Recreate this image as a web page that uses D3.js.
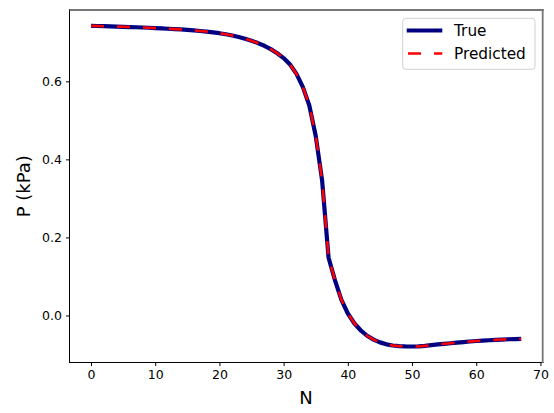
<!DOCTYPE html>
<html><head><meta charset="utf-8">
<script src="https://cdn.jsdelivr.net/npm/d3@7"></script>
<style>body{margin:0;background:#fff}svg{display:block;font-family:"DejaVu Sans",sans-serif}</style>
</head><body><svg id="c" width="554" height="413"></svg>
<script>
const nValues = d3.range(0, 68);
const pTrue = [0.742,0.7417,0.7413,0.7408,0.7403,0.7397,0.7391,0.7385,0.7379,0.7372,
0.7364,0.7356,0.7347,0.7337,0.733,0.7318,0.7305,0.729,0.7275,0.7255,
0.7233,0.7207,0.7175,0.7135,0.709,0.704,0.698,0.691,0.6825,0.672,
0.6595,0.643,0.619,0.585,0.538,0.46,0.345,0.148,0.09,0.04,
0.005,-0.02,-0.038,-0.052,-0.062,-0.069,-0.074,-0.077,-0.0785,-0.0792,
-0.0795,-0.0793,-0.078,-0.076,-0.0742,-0.0726,-0.0712,-0.0698,-0.0682,-0.0667,
-0.0655,-0.0645,-0.0635,-0.0625,-0.0617,-0.061,-0.0605,-0.06];
const pPred = pTrue.slice();
const xTicks = [0,10,20,30,40,50,60,70];
const yTicks = [0.0,0.2,0.4,0.6];
const seriesNames = ["True","Predicted"];

const svg = d3.select("#c");
const L=69.5, R=542.7, T=10, B=362.5;
const x = d3.scaleLinear().domain([-3.35,70.35]).range([L,R]);
const y = d3.scaleLinear().domain([-0.12055,0.78275]).range([B,T]);

const clipId="clp";
svg.append("defs").append("clipPath").attr("id",clipId).append("rect")
  .attr("x",L).attr("y",T).attr("width",R-L).attr("height",B-T);

const line = d3.line().x((d,i)=>x(nValues[i])).y(d=>y(d));
const g = svg.append("g").attr("clip-path","url(#"+clipId+")");
g.append("path").datum(pTrue).attr("d",line).attr("fill","none")
  .attr("stroke","#000080").attr("stroke-width",4.2).attr("stroke-linejoin","round");
g.append("path").datum(pPred).attr("d",line).attr("fill","none")
  .attr("stroke","#ff0000").attr("stroke-width",2.6).attr("stroke-dasharray","13,13");

// axes
const xa = svg.append("g").attr("transform",`translate(0,${B})`)
  .call(d3.axisBottom(x).tickValues(xTicks).tickSize(3.5).tickPadding(4).tickFormat(d3.format("d")));
const ya = svg.append("g").attr("transform",`translate(${L},0)`)
  .call(d3.axisLeft(y).tickValues(yTicks).tickSize(3.5).tickPadding(4).tickFormat(d3.format(".1f")));
[xa,ya].forEach(a=>{a.select(".domain").remove();
  a.selectAll("text").attr("font-size",12.5).attr("fill","#000").attr("font-family","DejaVu Sans");
  a.selectAll("line").attr("stroke","#000");});

// frame
svg.append("line").attr("x1",L).attr("x2",L).attr("y1",T-1).attr("y2",B+0.5).attr("stroke","#000").attr("stroke-width",1);
svg.append("line").attr("x1",L).attr("x2",R+1).attr("y1",B).attr("y2",B).attr("stroke","#000").attr("stroke-width",1);
svg.append("line").attr("x1",L).attr("x2",R+1).attr("y1",T).attr("y2",T).attr("stroke","#777").attr("stroke-width",1.8);
svg.append("line").attr("x1",R).attr("x2",R).attr("y1",T-1).attr("y2",B+0.5).attr("stroke","#777").attr("stroke-width",1.8);

// labels
svg.append("text").attr("x",(L+R)/2).attr("y",404).attr("text-anchor","middle")
  .attr("font-size",18).text("N");
svg.append("text").attr("transform",`translate(30,${(T+B)/2}) rotate(-90)`).attr("text-anchor","middle")
  .attr("font-size",18).text("P (kPa)");

// legend
const lg = svg.append("g");
lg.append("rect").attr("x",402.7).attr("y",18.3).attr("width",132.3).attr("height",51)
  .attr("rx",3).attr("fill","#fff").attr("fill-opacity",0.8).attr("stroke","#d0d0d0");
lg.append("line").attr("x1",406.7).attr("x2",442.3).attr("y1",30.5).attr("y2",30.5)
  .attr("stroke","#000080").attr("stroke-width",4.2);
lg.append("line").attr("x1",408).attr("x2",442.3).attr("y1",53.5).attr("y2",53.5)
  .attr("stroke","#ff0000").attr("stroke-width",2.6).attr("stroke-dasharray","13,13");
lg.selectAll("text.lt").data(seriesNames).enter().append("text").attr("class","lt")
  .attr("x",454).attr("y",(d,i)=>36+i*23).attr("font-size",15.3).text(d=>d);
</script></body></html>
